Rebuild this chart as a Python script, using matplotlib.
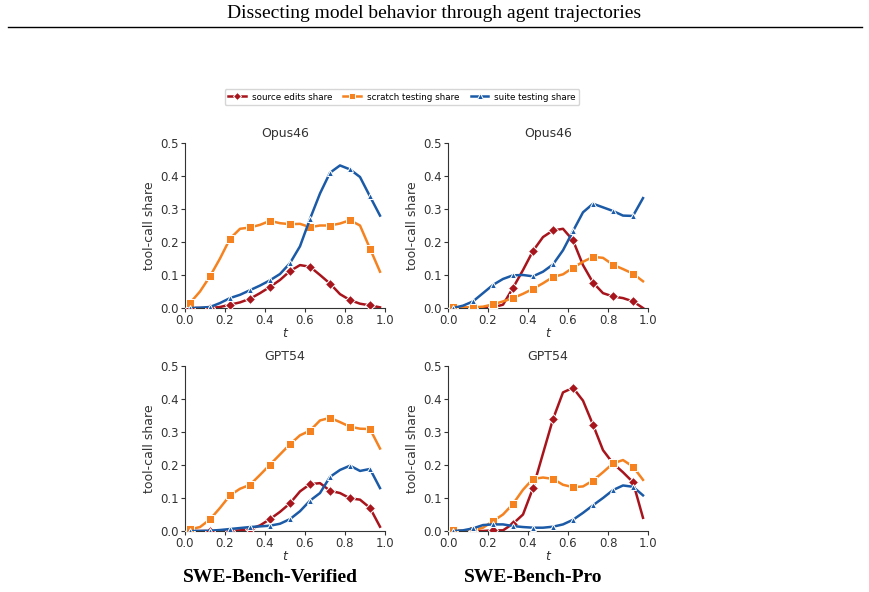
import matplotlib
matplotlib.use("Agg")
import matplotlib.pyplot as plt
from matplotlib.lines import Line2D
import numpy as np

# bin centres of normalised trajectory time
T = [0.025, 0.075, 0.125, 0.175, 0.225, 0.275, 0.325, 0.375, 0.425, 0.475,
     0.525, 0.575, 0.625, 0.675, 0.725, 0.775, 0.825, 0.875, 0.925, 0.975]

# SWE-Bench-Verified, Opus46
ver_opus_source = [0.0, 0.0, 0.0, 0.003, 0.010, 0.017, 0.028, 0.045, 0.064, 0.085,
                   0.112, 0.130, 0.125, 0.100, 0.074, 0.042, 0.024, 0.013, 0.008, 0.002]
ver_opus_scratch = [0.015, 0.050, 0.096, 0.150, 0.210, 0.240, 0.244, 0.252, 0.264, 0.257,
                    0.254, 0.255, 0.245, 0.250, 0.250, 0.256, 0.266, 0.250, 0.180, 0.110]
ver_opus_suite = [0.0, 0.001, 0.003, 0.015, 0.030, 0.040, 0.054, 0.068, 0.084, 0.103,
                  0.136, 0.187, 0.270, 0.347, 0.410, 0.432, 0.420, 0.397, 0.338, 0.280]

# SWE-Bench-Pro, Opus46
pro_opus_source = [0.0, 0.0, 0.0, 0.0, 0.002, 0.010, 0.061, 0.115, 0.173, 0.215,
                   0.235, 0.240, 0.205, 0.130, 0.077, 0.045, 0.035, 0.030, 0.020, 0.0]
pro_opus_scratch = [0.003, 0.002, 0.002, 0.004, 0.011, 0.020, 0.030, 0.043, 0.058, 0.075,
                    0.094, 0.102, 0.122, 0.140, 0.155, 0.152, 0.131, 0.118, 0.104, 0.081]
pro_opus_suite = [0.0, 0.007, 0.020, 0.045, 0.070, 0.088, 0.099, 0.100, 0.096, 0.110,
                  0.132, 0.175, 0.233, 0.290, 0.316, 0.305, 0.294, 0.280, 0.279, 0.333]

# SWE-Bench-Verified, GPT54
ver_gpt_source = [0.0, 0.0, 0.0, 0.0, 0.0, 0.002, 0.006, 0.017, 0.036, 0.058,
                  0.084, 0.120, 0.142, 0.145, 0.122, 0.115, 0.099, 0.095, 0.070, 0.013]
ver_gpt_scratch = [0.005, 0.012, 0.035, 0.070, 0.108, 0.128, 0.140, 0.170, 0.201, 0.232,
                   0.263, 0.290, 0.304, 0.335, 0.343, 0.330, 0.316, 0.310, 0.309, 0.250]
ver_gpt_suite = [0.0, 0.0, 0.001, 0.003, 0.006, 0.009, 0.012, 0.014, 0.016, 0.022,
                 0.036, 0.060, 0.092, 0.115, 0.164, 0.185, 0.198, 0.182, 0.188, 0.130]

# SWE-Bench-Pro, GPT54
pro_gpt_source = [0.0, 0.0, 0.0, 0.0, 0.002, 0.002, 0.022, 0.050, 0.130, 0.235,
                  0.339, 0.420, 0.434, 0.395, 0.322, 0.245, 0.205, 0.178, 0.148, 0.040]
pro_gpt_scratch = [0.002, 0.0, 0.002, 0.010, 0.030, 0.050, 0.082, 0.125, 0.158, 0.162,
                   0.158, 0.140, 0.133, 0.135, 0.153, 0.178, 0.205, 0.215, 0.195, 0.155]
pro_gpt_suite = [0.0, 0.002, 0.008, 0.018, 0.020, 0.020, 0.015, 0.012, 0.010, 0.010,
                 0.013, 0.020, 0.034, 0.055, 0.078, 0.100, 0.124, 0.138, 0.134, 0.108]

SERIES_LABELS = ["source edits share", "scratch testing share", "suite testing share"]
MODELS = ["Opus46", "GPT54"]
BENCHMARKS = ["SWE-Bench-Verified", "SWE-Bench-Pro"]

RED, ORANGE, BLUE = "#a8141c", "#f5821f", "#1b5aa6"
STYLE = [
    dict(color=RED, marker="D", ms=5.0),
    dict(color=ORANGE, marker="s", ms=5.5),
    dict(color=BLUE, marker="^", ms=5.0),
]

panels = {
    (0, 0): [ver_opus_source, ver_opus_scratch, ver_opus_suite],
    (0, 1): [pro_opus_source, pro_opus_scratch, pro_opus_suite],
    (1, 0): [ver_gpt_source, ver_gpt_scratch, ver_gpt_suite],
    (1, 1): [pro_gpt_source, pro_gpt_scratch, pro_gpt_suite],
}

plt.rcParams.update({
    "font.family": "DejaVu Sans",
    "font.size": 9,
    "axes.spines.top": False,
    "axes.spines.right": False,
    "axes.edgecolor": "#333333",
    "xtick.color": "#333333",
    "ytick.color": "#333333",
    "axes.labelcolor": "#333333",
})

fig = plt.figure(figsize=(8.69, 5.92), dpi=100)

W, H = 869, 592
lefts = [185, 448]
tops = [143, 366]
aw, ah = 200, 165

for (r, c), series in panels.items():
    x0 = lefts[c] / W
    y0 = (H - tops[r] - ah) / H
    ax = fig.add_axes([x0, y0, aw / W, ah / H])
    for vals, st in zip(series, STYLE):
        ax.plot(T, vals, color=st["color"], lw=1.8, marker=st["marker"],
                ms=st["ms"], mfc=st["color"], mec="white", mew=0.7,
                markevery=2, zorder=3)
    ax.set_xlim(0, 1)
    ax.set_ylim(0, 0.5)
    ax.set_xticks(np.arange(0, 1.01, 0.2))
    ax.set_yticks(np.arange(0, 0.51, 0.1))
    ax.xaxis.set_major_formatter(plt.FormatStrFormatter("%.1f"))
    ax.yaxis.set_major_formatter(plt.FormatStrFormatter("%.1f"))
    ax.tick_params(labelsize=8.5, length=3, width=0.8, pad=1.5)
    ax.set_title(MODELS[r], fontsize=9, pad=4, color="#333333")
    ax.set_ylabel("tool-call share", fontsize=9, labelpad=3)
    ax.set_xlabel("t", fontsize=9, style="italic", labelpad=0)

# header with rule
fig.text(0.5, 1 - 14 / H, "Dissecting model behavior through agent trajectories",
         ha="center", va="center", fontsize=14, family="Liberation Serif")
fig.add_artist(Line2D([8 / W, 862 / W], [1 - 27 / H, 1 - 27 / H],
                      color="black", lw=1.0))

# shared legend
handles = [Line2D([], [], color=st["color"], lw=1.8, marker=st["marker"],
                  ms=st["ms"] * 0.9, mfc=st["color"], mec="white", mew=0.7)
           for st in STYLE]
fig.legend(handles, SERIES_LABELS, loc="center", bbox_to_anchor=(402 / W, 1 - 97 / H),
           ncol=3, fontsize=6.3, frameon=True, fancybox=True, edgecolor="#cccccc",
           handlelength=2.0, columnspacing=1.3, handletextpad=0.7,
           borderpad=0.4)

# benchmark captions
for cx, name in zip([270, 533], BENCHMARKS):
    fig.text(cx / W, 1 - 578 / H, name, ha="center", va="center",
             fontsize=14, fontweight="bold", family="Liberation Serif")

fig.savefig("out.png", dpi=100)
